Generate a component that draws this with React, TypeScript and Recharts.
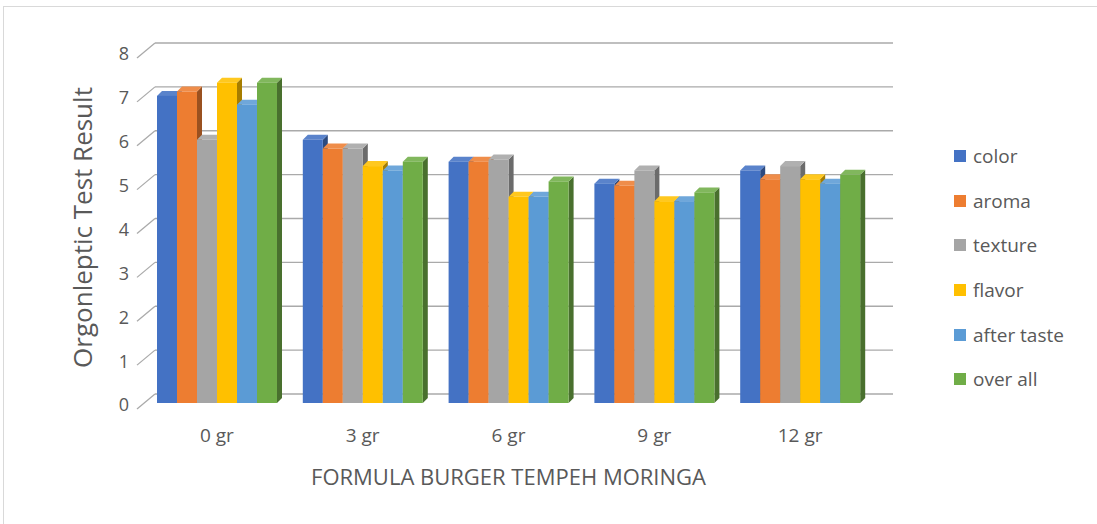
import React from "react";
import { BarChart, Bar, XAxis, YAxis, CartesianGrid, Label } from "recharts";

const CATEGORIES = ["0 gr", "3 gr", "6 gr", "9 gr", "12 gr"];
const COLOR = [7.0, 6.0, 5.5, 5.0, 5.3];
const AROMA = [7.1, 5.8, 5.5, 4.95, 5.1];
const TEXTURE = [6.0, 5.8, 5.55, 5.3, 5.4];
const FLAVOR = [7.3, 5.4, 4.7, 4.6, 5.1];
const AFTER_TASTE = [6.8, 5.3, 4.7, 4.6, 5.0];
const OVER_ALL = [7.3, 5.5, 5.05, 4.8, 5.2];
const Y_TICKS = [0, 1, 2, 3, 4, 5, 6, 7, 8];

const SERIES = [
    { key: "color", values: COLOR, fill: "#4472C4" },
    { key: "aroma", values: AROMA, fill: "#ED7D31" },
    { key: "texture", values: TEXTURE, fill: "#A5A5A5" },
    { key: "flavor", values: FLAVOR, fill: "#FFC000" },
    { key: "after taste", values: AFTER_TASTE, fill: "#5B9BD5" },
    { key: "over all", values: OVER_ALL, fill: "#70AD47" },
];

const data = CATEGORIES.map((name, i) => {
    const row: Record<string, any> = { name };
    SERIES.forEach((s) => {
        row[s.key] = s.values[i];
    });
    return row;
});

const FONT = "'Open Sans', sans-serif";
const TEXT = "#595959";
const GRID = "#aaaaaa";

// mix a hex colour toward white (amt > 0) or black (amt < 0)
function shade(hex: string, amt: number) {
    const n = parseInt(hex.slice(1), 16);
    let r = (n >> 16) & 255, g = (n >> 8) & 255, b = n & 255;
    const t = amt > 0 ? 255 : 0;
    const p = Math.abs(amt);
    r = Math.round(r + (t - r) * p);
    g = Math.round(g + (t - g) * p);
    b = Math.round(b + (t - b) * p);
    return `rgb(${r},${g},${b})`;
}

const Bar3D = (props: any) => {
    const { x, y, width, height, fill } = props;
    if (!height || height <= 0) return null;
    const dx = 5;
    const dy = 5;
    return (
        <g>
            <polygon
                points={`${x + width},${y} ${x + width + dx},${y - dy} ${x + width + dx},${y + height - dy} ${x + width},${y + height}`}
                fill={shade(fill, -0.35)}
            />
            <polygon
                points={`${x},${y} ${x + dx},${y - dy} ${x + width + dx},${y - dy} ${x + width},${y}`}
                fill={shade(fill, 0.12)}
            />
            <rect x={x} y={y} width={width} height={height} fill={fill} />
        </g>
    );
};

const WallLine = (p: any) => {
    const { x1, y1, x2, index } = p;
    return (
        <g key={`wall-${index}`}>
            <line x1={x1 - 7} y1={y1 + 6} x2={x1 + 11} y2={y1 - 9} stroke={GRID} strokeWidth={1.3} />
            <line x1={x1 + 11} y1={y1 - 9} x2={x2 + 20} y2={y1 - 9} stroke={GRID} strokeWidth={1.3} />
        </g>
    );
};

const LegendBox = () => (
    <div style={{ position: "absolute", left: 954, top: 134, fontFamily: FONT, color: TEXT, fontSize: 19 }}>
        {SERIES.map((s) => (
            <div key={s.key} style={{ display: "flex", alignItems: "center", height: 44.6 }}>
                <span style={{ width: 12, height: 12, background: s.fill, display: "inline-block", marginRight: 7 }} />
                <span>{s.key}</span>
            </div>
        ))}
    </div>
);

export default function App() {
    return (
        <div style={{ position: "absolute", left: 0, top: 0, width: 1097, height: 524, background: "#fff", overflow: "hidden" }}>
            <div style={{ position: "absolute", left: 3, top: 6, width: 1110, height: 540, border: "1px solid #d9d9d9" }} />
            <div style={{ position: "absolute", left: 0, top: 0 }}>
                <BarChart
                    width={1097}
                    height={524}
                    data={data}
                    margin={{ top: 52, right: 224, bottom: 81, left: 0 }}
                    barCategoryGap={13}
                    barGap={0}
                >
                    <CartesianGrid vertical={false} horizontal={WallLine} />
                    <XAxis
                        dataKey="name"
                        axisLine={false}
                        tickLine={false}
                        tickSize={0}
                        tickMargin={26}
                        height={40}
                        tick={{ fill: TEXT, fontSize: 19, fontFamily: FONT }}
                    >
                        <Label
                            value="FORMULA BURGER TEMPEH MORINGA"
                            position="insideBottom"
                            offset={-42}
                            style={{ fill: TEXT, fontSize: 22, fontFamily: FONT }}
                        />
                    </XAxis>
                    <YAxis
                        domain={[0, 8]}
                        ticks={Y_TICKS}
                        interval={0}
                        width={144}
                        axisLine={false}
                        tickLine={false}
                        tickSize={0}
                        tickMargin={15}
                        tick={{ fill: TEXT, fontSize: 18, fontFamily: FONT, dy: 2 }}
                    >
                        <Label
                            value="Orgonleptic Test Result"
                            angle={-90}
                            position="insideLeft"
                            offset={83}
                            style={{ fill: TEXT, fontSize: 26, fontFamily: FONT, textAnchor: "middle" }}
                        />
                    </YAxis>
                    {SERIES.map((s) => (
                        <Bar
                            key={s.key}
                            dataKey={s.key}
                            name={s.key}
                            fill={s.fill}
                            shape={<Bar3D />}
                            isAnimationActive={false}
                        />
                    ))}
                </BarChart>
            </div>
            <LegendBox />
        </div>
    );
}
